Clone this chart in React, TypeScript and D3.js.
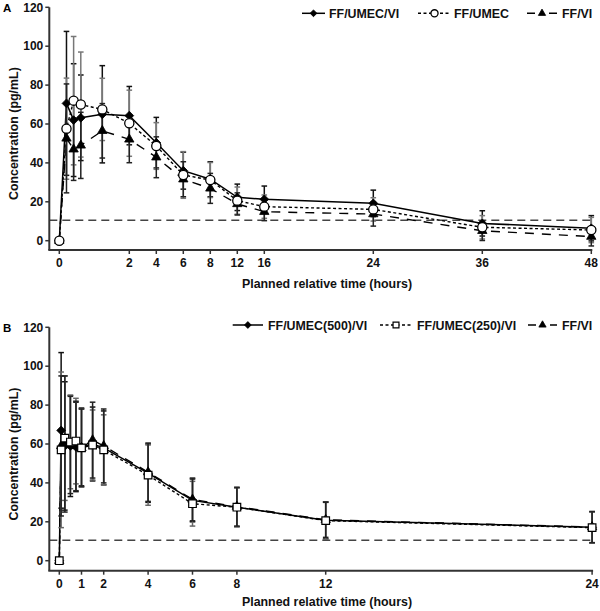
import React from "react";
import * as d3 from "d3";

// ---------- Panel A data ----------
const timesA = [0, 0.167, 0.333, 0.5, 1, 2, 4, 6, 8, 12, 16, 24, 36, 48];
const tickValsA = [0, 2, 4, 6, 8, 12, 16, 24, 36, 48];
const aTripleMean = [0, 70.6, 62, 63.2, 65, 64.3, 50.4, 36, 31.6, 22.3, 21.3, 19.2, 8.9, 6.4];
const aTripleSD = [0, 37, 29, 22, 25, 15, 13, 9.5, 9, 6.8, 6.8, 6.8, 6.5, 6.5];
const aUmecMean = [0, 57.6, 72, 70, 67.5, 60.4, 48.7, 33.8, 31.2, 20.6, 17.5, 16.1, 6.9, 5.5];
const aUmecSD = [0, 26, 33, 27, 16, 17, 12, 12, 9, 7, 6, 6, 6, 6.5];
const aViMean = [0, 52.6, 47, 49, 56.5, 52.1, 42.9, 31.6, 26.9, 18.9, 14.9, 13.7, 5.1, 2.1];
const aViSD = [0, 28, 16, 17, 14, 12, 10.5, 9, 7.7, 5.7, 4.6, 6.2, 5, 4.8];

// ---------- Panel B data ----------
const timesB = [0, 0.083, 0.25, 0.5, 0.75, 1, 1.5, 2, 4, 6, 8, 12, 24];
const tickValsB = [0, 1, 2, 4, 6, 8, 12, 24];
const b500Mean = [0, 67, 59, 59, 58.5, 58.5, 60, 58, 45, 31, 27.5, 20.8, 17.2];
const b500SD = [0, 40, 33, 26, 23, 20, 19, 19, 15, 11, 10, 9.5, 8];
const b250Mean = [0, 57, 63, 61, 61.5, 58, 59.5, 57, 44, 29.3, 27.5, 20.6, 17];
const b250SD = [0, 40, 32, 24, 22, 20, 18, 18, 15.5, 11.5, 10, 9.5, 8];
const bViMean = [0, 59, 60, 59.5, 59, 58, 62, 59, 45.5, 31.5, 27.8, 21, 17.3];
const bViSD = [0, 36, 35, 25, 23, 20, 19.5, 19, 15, 11, 10, 9, 8];

const yTicks = [0, 20, 40, 60, 80, 100, 120];
const LLQ = 10.5;

const FONT = "'Liberation Sans', Arial, Helvetica, sans-serif";

type Marker = "diamond" | "circle" | "triangle" | "square";

interface Series {
  name: string;
  times: number[];
  mean: number[];
  sd: number[];
  marker: Marker;
  dash: string | null;
  barColor: string;
}

function markerPath(m: Marker, k: number): string | null {
  if (m === "diamond") return d3.symbol(d3.symbolSquare, 38 * k)() as string;
  if (m === "triangle") return d3.symbol(d3.symbolTriangle, 38 * k)() as string;
  if (m === "square") return d3.symbol(d3.symbolSquare, 58 * k)() as string;
  return null;
}

function MarkerShape({ m, x, y, k = 1 }: { m: Marker; x: number; y: number; k?: number }) {
  if (m === "circle")
    return <circle cx={x} cy={y} r={4.6 * Math.sqrt(k)} fill="#fff" stroke="#000" strokeWidth={1.3} />;
  const p = markerPath(m, k)!;
  const rot = m === "diamond" ? ` rotate(45)` : "";
  const filled = m === "diamond" || m === "triangle";
  return (
    <path
      d={p}
      transform={`translate(${x},${y})${rot}`}
      fill={filled ? "#000" : "#fff"}
      stroke="#000"
      strokeWidth={filled ? 0.8 : 1.2}
    />
  );
}

interface PanelProps {
  letter: string;
  series: Series[];
  x: d3.ScaleLinear<number, number>;
  y: d3.ScaleLinear<number, number>;
  xTicks: number[];
  axisBottom: number;
  axisLeft: number;
  legendY: number;
  legendItems: { lx0: number; lx1: number; tx: number }[];
  titleY: number;
}

function Panel(p: PanelProps) {
  const { series, x, y, xTicks, axisBottom, axisLeft } = p;
  const xEnd = x(xTicks[xTicks.length - 1]);
  const yTop = y(120);
  const yMid = (yTop + axisBottom) / 2 + 5;
  // filled markers first, open markers on top
  const markerOrder = series
    .map((s, i) => ({ s, i }))
    .sort((a, b) => {
      const fa = a.s.marker === "circle" || a.s.marker === "square" ? 1 : 0;
      const fb = b.s.marker === "circle" || b.s.marker === "square" ? 1 : 0;
      return fa - fb;
    });
  return (
    <g>
      <text x={3} y={yTop + 5} fontFamily={FONT} fontWeight="bold" fontSize={11.5}>
        {p.letter}
      </text>
      {/* reference dashed line */}
      <line
        x1={axisLeft}
        x2={xEnd + 3}
        y1={y(LLQ)}
        y2={y(LLQ)}
        stroke="#444"
        strokeWidth={1.5}
        strokeDasharray="8,5"
      />
      {/* series lines */}
      {series.map((s, i) => {
        const pts = s.times.map((t, j) => [x(t), y(s.mean[j])] as [number, number]);
        return (
          <path
            key={"l" + i}
            d={d3.line()(pts) as string}
            fill="none"
            stroke="#000"
            strokeWidth={s.dash ? 1.4 : 1.5}
            strokeDasharray={s.dash ?? undefined}
          />
        );
      })}
      {/* error bars */}
      {series.map((s, i) =>
        s.times.map((t, j) => {
          if (s.sd[j] === 0) return null;
          const cx = x(t);
          const y0 = y(s.mean[j] - s.sd[j]);
          const y1 = y(s.mean[j] + s.sd[j]);
          return (
            <g key={`e${i}-${j}`} stroke={s.barColor} strokeWidth={1.5}>
              <line x1={cx} x2={cx} y1={y0} y2={y1} />
              <line x1={cx - 2.8} x2={cx + 2.8} y1={y0} y2={y0} />
              <line x1={cx - 2.8} x2={cx + 2.8} y1={y1} y2={y1} />
            </g>
          );
        })
      )}
      {/* markers */}
      {markerOrder.map(({ s, i }) =>
        s.times.map((t, j) => (
          <MarkerShape key={`m${i}-${j}`} m={s.marker} x={x(t)} y={y(s.mean[j])} />
        ))
      )}
      {/* axes */}
      <line x1={axisLeft} x2={axisLeft} y1={yTop} y2={axisBottom} stroke="#333" strokeWidth={2} />
      <line x1={axisLeft - 1} x2={xEnd + 1} y1={axisBottom} y2={axisBottom} stroke="#333" strokeWidth={2} />
      {yTicks.map((v) => (
        <g key={"yt" + v}>
          <line x1={axisLeft - 4} x2={axisLeft} y1={y(v)} y2={y(v)} stroke="#333" strokeWidth={1.5} />
          <text
            x={axisLeft - 6}
            y={y(v) + 4.2}
            textAnchor="end"
            fontFamily={FONT}
            fontWeight="bold"
            fontSize={12}
            fill="#111"
          >
            {v}
          </text>
        </g>
      ))}
      {xTicks.map((v) => (
        <g key={"xt" + v}>
          <line x1={x(v)} x2={x(v)} y1={axisBottom} y2={axisBottom + 4} stroke="#333" strokeWidth={1.5} />
          <text
            x={x(v)}
            y={axisBottom + 17}
            textAnchor="middle"
            fontFamily={FONT}
            fontWeight="bold"
            fontSize={12}
            fill="#111"
          >
            {v}
          </text>
        </g>
      ))}
      <text
        x={327}
        y={p.titleY}
        textAnchor="middle"
        fontFamily={FONT}
        fontWeight="bold"
        fontSize={12.4}
        fill="#111"
      >
        Planned relative time (hours)
      </text>
      <text
        transform={`translate(18,${yMid}) rotate(-90)`}
        textAnchor="middle"
        fontFamily={FONT}
        fontWeight="bold"
        fontSize={12.4}
        fill="#111"
      >
        Concentration (pg/mL)
      </text>
      {/* legend */}
      {series.map((s, i) => {
        const it = p.legendItems[i];
        const mx = (it.lx0 + it.lx1) / 2;
        return (
          <g key={"lg" + i}>
            <line
              x1={it.lx0}
              x2={it.lx1}
              y1={p.legendY}
              y2={p.legendY}
              stroke="#000"
              strokeWidth={1.5}
              strokeDasharray={s.dash === "9,8" ? "8,14" : s.dash ?? undefined}
            />
            <MarkerShape m={s.marker} x={mx} y={p.legendY} k={0.6} />
            <text
              x={it.tx}
              y={p.legendY + 4.5}
              fontFamily={FONT}
              fontWeight="bold"
              fontSize={12.4}
              fill="#111"
            >
              {s.name}
            </text>
          </g>
        );
      })}
    </g>
  );
}

export default function App() {
  // Panel A: piecewise axis (uneven spacing between tick groups)
  const segA = [0, 43, 27, 27, 27, 27, 27, 27, 109, 109, 109];
  const domA = [0, 1, 2, 4, 6, 8, 12, 16, 24, 36, 48];
  const rangeA = d3.cumsum(segA).map((v) => 59.3 + v);
  const xA = d3.scaleLinear().domain(domA).range(Array.from(rangeA));
  const yA = d3.scaleLinear().domain([0, 120]).range([240.7, 7.3]);

  const xB = d3.scaleLinear().domain([0, 24]).range([59.3, 592.1]);
  const yB = d3.scaleLinear().domain([0, 120]).range([560.7, 327.3]);

  const seriesA: Series[] = [
    { name: "FF/UMEC/VI", times: timesA, mean: aTripleMean, sd: aTripleSD, marker: "diamond", dash: null, barColor: "#111" },
    { name: "FF/UMEC", times: timesA, mean: aUmecMean, sd: aUmecSD, marker: "circle", dash: "3,2.5", barColor: "#777" },
    { name: "FF/VI", times: timesA, mean: aViMean, sd: aViSD, marker: "triangle", dash: "9,8", barColor: "#222" },
  ];
  const seriesB: Series[] = [
    { name: "FF/UMEC(500)/VI", times: timesB, mean: b500Mean, sd: b500SD, marker: "diamond", dash: null, barColor: "#111" },
    { name: "FF/UMEC(250)/VI", times: timesB, mean: b250Mean, sd: b250SD, marker: "square", dash: "3,2.5", barColor: "#666" },
    { name: "FF/VI", times: timesB, mean: bViMean, sd: bViSD, marker: "triangle", dash: "9,8", barColor: "#222" },
  ];

  return (
    <svg width={600} height={611} style={{ position: "absolute", left: 0, top: 0, background: "#fff" }}>
      <rect x={0} y={0} width={600} height={611} fill="#fff" />
      <Panel
        letter="A"
        series={seriesA}
        x={xA}
        y={yA}
        xTicks={tickValsA}
        axisBottom={250}
        axisLeft={49.3}
        legendY={13.3}
        legendItems={[
          { lx0: 302, lx1: 325, tx: 329 },
          { lx0: 418, lx1: 451, tx: 454 },
          { lx0: 527, lx1: 557, tx: 562 },
        ]}
        titleY={287.5}
      />
      <Panel
        letter="B"
        series={seriesB}
        x={xB}
        y={yB}
        xTicks={tickValsB}
        axisBottom={570.7}
        axisLeft={49.3}
        legendY={325}
        legendItems={[
          { lx0: 232.7, lx1: 263, tx: 268 },
          { lx0: 380, lx1: 412, tx: 417 },
          { lx0: 528, lx1: 557, tx: 562 },
        ]}
        titleY={605.5}
      />
    </svg>
  );
}
